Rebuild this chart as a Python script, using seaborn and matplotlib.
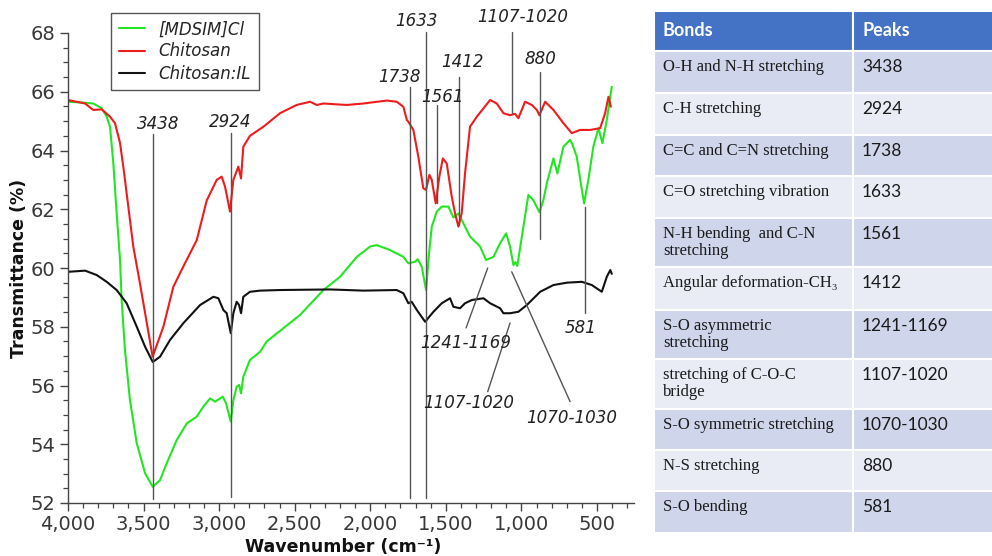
import matplotlib
matplotlib.use("Agg")
import matplotlib.pyplot as plt
import numpy as np
import pandas as pd
import seaborn as sns
from matplotlib.patches import Rectangle
from matplotlib.ticker import MultipleLocator, FuncFormatter

# ---------------- data ----------------
series_names = ["[MDSIM]Cl", "Chitosan", "Chitosan:IL"]
series_colors = ["#22e622", "#ee1c1c", "#111111"]

wn_mdsim = [4000, 3899, 3833, 3777, 3744, 3722, 3700, 3678, 3656, 3645, 3623, 3590, 3545, 3490, 3439,
            3391, 3347, 3281, 3214, 3148, 3105, 3060, 3027, 2976, 2954, 2923, 2906, 2884, 2868, 2855,
            2840, 2796, 2729, 2685, 2575, 2465, 2310, 2200, 2089, 2001, 1957, 1869, 1781, 1748, 1704,
            1686, 1659, 1631, 1611, 1593, 1560, 1527, 1483, 1450, 1417, 1384, 1340, 1273, 1234, 1185,
            1141, 1101, 1075, 1053, 1040, 1027, 997, 954, 920, 881, 855, 832, 788, 762, 722,
            678, 661, 634, 600, 585, 557, 524, 490, 464, 435, 402]
t_mdsim = [65.66, 65.63, 65.6, 65.44, 65.15, 64.81, 63.56, 61.86, 60.3, 58.91, 57.2, 55.5, 54.03, 53.01, 52.55,
           52.78, 53.35, 54.14, 54.71, 54.94, 55.28, 55.56, 55.45, 55.62, 55.39, 54.77, 55.5, 55.96, 56.02, 55.73,
           56.3, 56.87, 57.15, 57.5, 57.95, 58.4, 59.25, 59.7, 60.38, 60.73, 60.78, 60.61, 60.38, 60.16, 60.21,
           60.3, 60.04, 59.25, 60.5, 61.41, 61.92, 62.09, 62.09, 61.72, 61.86, 61.52, 61.07, 60.73, 60.27, 60.38,
           60.84, 61.18, 60.73, 60.1, 60.2, 60.07, 61.07, 62.49, 62.3, 61.9, 62.3, 62.88, 63.73, 63.22, 64.13,
           64.36, 64.19, 63.79, 62.66, 62.2, 63.0, 64.13, 64.76, 64.25, 65.04, 66.17]

wn_chitosan = [4000, 3887, 3833, 3777, 3722, 3689, 3656, 3634, 3601, 3568, 3524, 3440, 3369, 3303, 3237,
               3148, 3082, 3016, 2983, 2961, 2928, 2906, 2873, 2855, 2840, 2796, 2707, 2597, 2487, 2398,
               2354, 2310, 2156, 2046, 1891, 1825, 1781, 1758, 1748, 1715, 1682, 1649, 1631, 1609, 1593,
               1567, 1543, 1520, 1494, 1461, 1439, 1417, 1395, 1373, 1340, 1295, 1207, 1163, 1119, 1075,
               1042, 1020, 976, 931, 898, 881, 843, 788, 722, 667, 612, 545, 479, 446, 424, 408]
t_chitosan = [65.72, 65.6, 65.38, 65.4, 65.15, 64.93, 64.26, 63.45, 62.09, 60.73, 59.48, 56.98, 58.0, 59.36, 60.05,
              60.95, 62.3, 63.0, 63.11, 62.77, 61.92, 63.0, 63.45, 63.05, 64.13, 64.5, 64.81, 65.27, 65.55, 65.66,
              65.55, 65.6, 65.55, 65.6, 65.7, 65.66, 65.49, 65.04, 64.98, 64.7, 63.79, 62.71, 62.66, 63.17, 63.0,
              62.2, 63.11, 63.73, 63.56, 62.43, 61.86, 61.41, 61.86, 63.22, 64.81, 65.15, 65.72, 65.6, 65.27, 65.2,
              65.25, 65.1, 65.66, 65.55, 65.38, 65.2, 65.66, 65.38, 64.93, 64.59, 64.7, 64.7, 64.76, 65.27, 65.83, 65.49]

wn_chit_il = [4000, 3887, 3810, 3744, 3678, 3612, 3545, 3490, 3439, 3391, 3325, 3237, 3126, 3038, 3005,
              2972, 2950, 2923, 2906, 2884, 2868, 2855, 2840, 2796, 2729, 2597, 2266, 2046, 1825, 1781,
              1748, 1726, 1692, 1637, 1582, 1527, 1472, 1450, 1406, 1373, 1328, 1251, 1207, 1141, 1119,
              1075, 1020, 964, 876, 788, 700, 600, 534, 468, 435, 412, 402]
t_chit_il = [59.87, 59.91, 59.76, 59.53, 59.25, 58.8, 58.0, 57.32, 56.8, 56.98, 57.55, 58.12, 58.74, 59.02, 58.97,
             58.57, 58.46, 57.78, 58.46, 58.85, 58.74, 58.46, 59.02, 59.19, 59.23, 59.25, 59.27, 59.23, 59.25, 59.14,
             58.8, 58.85, 58.57, 58.17, 58.51, 58.8, 58.97, 58.68, 58.63, 58.8, 58.91, 58.97, 58.8, 58.63, 58.46,
             58.46, 58.51, 58.74, 59.19, 59.42, 59.5, 59.53, 59.42, 59.19, 59.7, 59.93, 59.8]

# peak annotation texts
peak_texts = ["3438", "2924", "1738", "1633", "1561", "1412", "1107-1020", "880",
              "581", "1241-1169", "1107-1020", "1070-1030"]
# layout of annotations: (label x, label y, line x0, y0, x1, y1)
peak_layout = [
    (3404, 64.90, 3438, 64.56, 3438, 52.14),
    (2926, 64.97, 2924, 64.60, 2924, 52.20),
    (1806, 66.50, 1738, 66.16, 1738, 52.17),
    (1697, 68.40, 1633, 68.03, 1633, 52.17),
    (1525, 65.82, 1561, 65.55, 1561, 62.20),
    (1388, 67.00, 1412, 66.50, 1412, 61.46),
    (993, 68.56, 1064, 68.03, 1064, 65.28),
    (874, 67.10, 880, 66.67, 880, 61.00),
    (606, 57.96, 581, 62.08, 581, 58.47),
    (1366, 57.46, 1366, 57.96, 1223, 60.00),
    (1347, 55.41, 1223, 55.79, 1075, 58.13),
    (667, 54.89, 678, 55.45, 1064, 59.87),
]

# table
table_header = ["Bonds", "Peaks"]
bonds = ["O-H and N-H stretching", "C-H stretching", "C=C and C=N stretching",
         "C=O stretching vibration", "N-H bending  and C-N\nstretching",
         "Angular deformation-CH\u2083", "S-O asymmetric\nstretching",
         "stretching of C-O-C\nbridge", "S-O symmetric stretching",
         "N-S stretching", "S-O bending"]
peaks = ["3438", "2924", "1738", "1633", "1561", "1412", "1241-1169",
         "1107-1020", "1070-1030", "880", "581"]

# ---------------- figure ----------------
sns.set_style("ticks")
plt.rcParams['font.family'] = ['DejaVu Sans']

W, H = 992, 556
fig = plt.figure(figsize=(W / 100, H / 100), dpi=100)
ax = fig.add_axes([68 / W, 1 - 503 / H, 566 / W, 470 / H])

frames = []
for name, wn, t in [(series_names[0], wn_mdsim, t_mdsim),
                    (series_names[1], wn_chitosan, t_chitosan),
                    (series_names[2], wn_chit_il, t_chit_il)]:
    frames.append(pd.DataFrame({"Wavenumber": wn, "Transmittance": t, "series": name}))
df = pd.concat(frames, ignore_index=True)

sns.lineplot(data=df, x="Wavenumber", y="Transmittance", hue="series",
             hue_order=series_names, palette=dict(zip(series_names, series_colors)),
             sort=False, estimator=None, linewidth=1.5, ax=ax)

ax.set_xlim(4000, 255)
ax.set_ylim(52, 68)
ax.xaxis.set_major_locator(MultipleLocator(500))
ax.xaxis.set_minor_locator(MultipleLocator(100))
ax.yaxis.set_major_locator(MultipleLocator(2))
ax.yaxis.set_minor_locator(MultipleLocator(0.5))
ax.xaxis.set_major_formatter(FuncFormatter(lambda v, p: f"{int(v):,}"))
ax.yaxis.set_major_formatter(FuncFormatter(lambda v, p: f"{int(v)}"))
ax.tick_params(which="major", length=6, width=1, color="#444444", labelsize=14,
               labelcolor="#383838", pad=3)
ax.tick_params(which="minor", length=3.5, width=0.9, color="#444444")
for s in ["top", "right"]:
    ax.spines[s].set_visible(False)
for s in ["left", "bottom"]:
    ax.spines[s].set_color("#444444")
    ax.spines[s].set_linewidth(1)

ax.set_xlabel("Wavenumber (cm\u207b\u00b9)", fontsize=12.5, fontweight="bold", color="#111111")
ax.set_ylabel("Transmittance (%)", fontsize=12.5, fontweight="bold", color="#111111")
ax.xaxis.set_label_coords((343 - 68) / 566, -(538 - 503) / 470)
ax.yaxis.set_label_coords(-(68 - 19) / 566, 0.5)
ax.yaxis.label.set_va("center")

# annotations
for txt, (lx, ly, x0, y0, x1, y1) in zip(peak_texts, peak_layout):
    ax.plot([x0, x1], [y0, y1], color="#555555", lw=1.0, zorder=5, clip_on=False)
    ax.text(lx, ly, txt, style="italic", fontsize=12, color="#222222",
            ha="center", va="center", zorder=6)

# legend
handles, labels = ax.get_legend_handles_labels()
leg = ax.legend(handles, labels, loc="upper left", bbox_to_anchor=(0.076, 1.043),
                borderaxespad=0, fancybox=False, edgecolor="#555555", framealpha=1,
                prop={"style": "italic", "size": 12}, handlelength=1.6,
                labelspacing=0.25, borderpad=0.45, handletextpad=0.8)
leg.get_frame().set_linewidth(1.0)
for h in leg.get_lines():
    h.set_linewidth(1.5)

# ---------------- table ----------------
tax = fig.add_axes([654 / W, 1 - 533 / H, (W - 654) / W, (533 - 11) / H])
tax.set_xlim(654, W)
tax.set_ylim(533, 11)
tax.axis("off")

row_edges = [11, 51, 93, 135, 176, 218, 267, 310, 359, 409, 450, 491, 533]
col_edges = [654, 853, 1000]
header_color = "#4472C4"
band_colors = ["#CFD5EA", "#E9EBF5"]

rows = [table_header] + [[b, p] for b, p in zip(bonds, peaks)]
for i, row in enumerate(rows):
    top, bot = row_edges[i], row_edges[i + 1]
    color = header_color if i == 0 else band_colors[(i - 1) % 2]
    for j in range(2):
        tax.add_patch(Rectangle((col_edges[j], top), col_edges[j + 1] - col_edges[j], bot - top,
                                facecolor=color, edgecolor="white", lw=1.5, clip_on=False))
    if i == 0:
        for j in range(2):
            tax.text(col_edges[j] + 9, (top + bot) / 2, row[j], fontsize=13, fontweight="bold",
                     color="white", ha="left", va="center", family=["Lato", "DejaVu Sans"])
    else:
        tax.text(col_edges[0] + 9, top + 8, row[0], fontsize=12, color="#1a1a1a",
                 ha="left", va="top", linespacing=1.12,
                 family=["Liberation Serif", "DejaVu Serif"])
        tax.text(col_edges[1] + 9, top + 8, row[1], fontsize=12.5, color="#1a1a1a",
                 ha="left", va="top", family=["Lato", "DejaVu Sans"])

fig.savefig("out.png", dpi=100)
